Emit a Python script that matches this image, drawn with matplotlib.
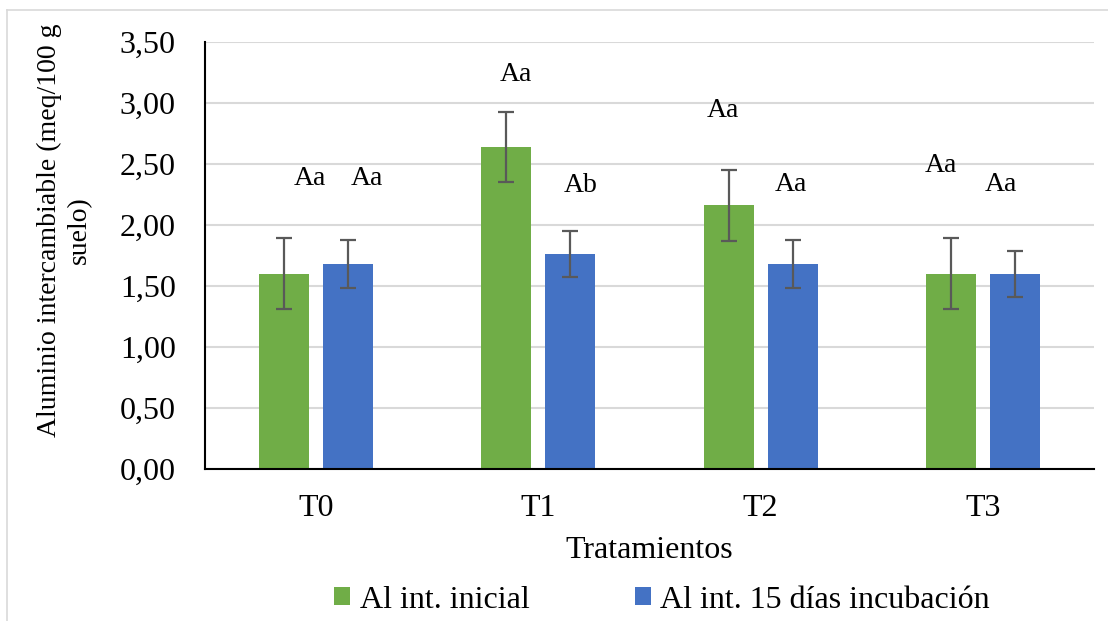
import numpy as np
import matplotlib.pyplot as plt
from matplotlib.lines import Line2D

# datos
tratamientos = ['T0', 'T1', 'T2', 'T3']
al_inicial = [1.60, 2.64, 2.16, 1.60]
al_15dias = [1.68, 1.76, 1.68, 1.60]
err_inicial = [0.29, 0.29, 0.29, 0.29]
err_15dias = [0.20, 0.19, 0.20, 0.19]

# letras de significancia
letras_inicial = ['Aa', 'Aa', 'Aa', 'Aa']
letras_15dias = ['Aa', 'Ab', 'Aa', 'Aa']
y_letras_inicial = [2.38, 3.23, 2.94, 2.49]
y_letras_15dias = [2.38, 2.32, 2.33, 2.33]
dx_letras_inicial = [-0.03, -0.10, -0.17, -0.19]
dx_letras_15dias = [0.23, 0.19, 0.135, 0.08]

verde = '#70AD47'
azul = '#4472C4'
gris_err = '#595959'

plt.rcParams['font.family'] = ['Liberation Serif', 'DejaVu Serif']

fig = plt.figure(figsize=(11.08, 6.21), dpi=100)
ax = fig.add_axes([205/1108, 1 - 469/621, (1094-205)/1108, (469-42)/621])

x = np.arange(len(tratamientos))
w = 0.225
off = 0.144
ax.bar(x - off, al_inicial, w, color=verde, label='Al int. inicial', zorder=2)
ax.bar(x + off, al_15dias, w, color=azul, label='Al int. 15 días incubación', zorder=2)
ax.errorbar(x - off, al_inicial, yerr=err_inicial, fmt='none', ecolor=gris_err,
            elinewidth=1.6, capsize=6, capthick=1.6, zorder=3)
ax.errorbar(x + off, al_15dias, yerr=err_15dias, fmt='none', ecolor=gris_err,
            elinewidth=1.6, capsize=6, capthick=1.6, zorder=3)

for i in range(len(tratamientos)):
    ax.text(x[i] + dx_letras_inicial[i], y_letras_inicial[i], letras_inicial[i],
            ha='center', va='center', fontsize=20)
    ax.text(x[i] + dx_letras_15dias[i], y_letras_15dias[i], letras_15dias[i],
            ha='center', va='center', fontsize=20)

ax.set_xlim(-0.5, len(tratamientos) - 0.5)
ax.set_ylim(0, 3.5)
yt = np.arange(0, 3.51, 0.5)
ax.set_yticks(yt)
ax.set_yticklabels([f'{v:.2f}'.replace('.', ',') for v in yt])
ax.set_xticks(x)
ax.set_xticklabels(tratamientos)
ax.tick_params(axis='both', length=0, labelsize=23)
ax.tick_params(axis='x', pad=18)
ax.tick_params(axis='y', pad=21)
ax.yaxis.grid(True, color='#D9D9D9', linewidth=1.5, zorder=0)
ax.set_axisbelow(True)
for s in ['top', 'right']:
    ax.spines[s].set_visible(False)
ax.spines['left'].set_linewidth(1.5)
ax.spines['bottom'].set_linewidth(1.5)

ax.set_xlabel('Tratamientos', fontsize=23)
ax.xaxis.set_label_coords(0.5, -(551 - 469) / 427)
ax.xaxis.label.set_va('center')
ax.set_ylabel('Aluminio intercambiable (meq/100 g\nsuelo)', fontsize=20, linespacing=1.25)
ax.yaxis.set_label_coords(-0.127, 0.56)

fig.legend(loc='center', bbox_to_anchor=(662/1108, 1 - 600/621), ncol=2,
           frameon=False, fontsize=23, handlelength=0.5, handleheight=0.5,
           handletextpad=0.3, columnspacing=3.3)

# borde del area del grafico
fig.add_artist(Line2D([7/1108, 1], [1 - 10/621, 1 - 10/621], color='#D9D9D9', lw=1.2))
fig.add_artist(Line2D([7/1108, 7/1108], [0, 1 - 10/621], color='#D9D9D9', lw=1.2))

fig.savefig('out.png', dpi=100)
